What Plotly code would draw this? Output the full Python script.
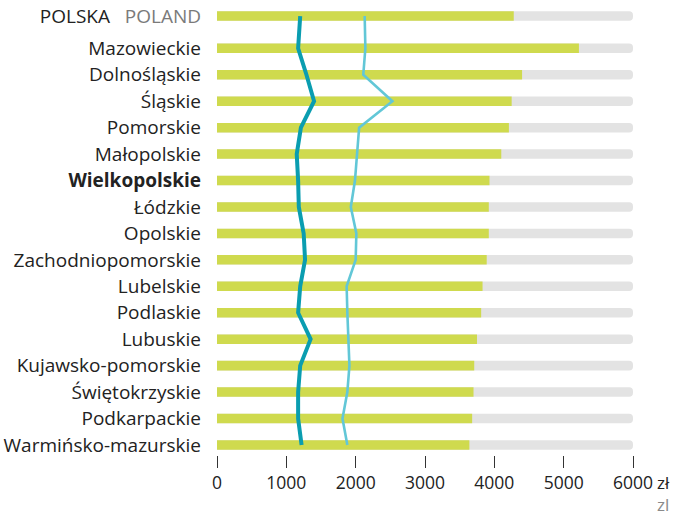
import plotly.graph_objects as go

regions = ["POLSKA", "Mazowieckie", "Dolnośląskie", "Śląskie", "Pomorskie", "Małopolskie",
           "Wielkopolskie", "Łódzkie", "Opolskie", "Zachodniopomorskie", "Lubelskie",
           "Podlaskie", "Lubuskie", "Kujawsko-pomorskie", "Świętokrzyskie",
           "Podkarpackie", "Warmińsko-mazurskie"]
bar_values = [4280, 5220, 4400, 4250, 4210, 4100, 3930, 3920, 3920, 3890, 3830,
              3810, 3750, 3710, 3700, 3680, 3640]
dark_line = [1200, 1170, 1290, 1400, 1210, 1150, 1170, 1180, 1250, 1270, 1200,
             1170, 1350, 1200, 1170, 1170, 1220]
light_line = [2130, 2140, 2110, 2530, 2050, 2020, 1990, 1930, 2010, 2000, 1870,
              1880, 1900, 1910, 1880, 1810, 1880]
x_max = 6000
x_ticks = [0, 1000, 2000, 3000, 4000, 5000, 6000]

# row positions: POLSKA separated by an extra gap
ypos = [-1.22] + list(range(len(regions) - 1))

ticktext = []
for r in regions:
    if r == "POLSKA":
        ticktext.append("POLSKA   <span style='color:#7a7a7a'>POLAND</span>")
    elif r == "Wielkopolskie":
        ticktext.append("<b>Wielkopolskie</b>")
    else:
        ticktext.append(r)

GREEN = "#CFDA4E"
GRAY = "#E3E3E3"
DARK = "#0A9DB0"
LIGHT = "#62C7D7"
FONT = "Open Sans"
TXT = "#222222"

W, H = 676, 516
ML, MR, MT, MB = 217, 43, 6, 61

fig = go.Figure()
fig.add_trace(go.Bar(x=[x_max] * len(regions), y=ypos, orientation="h", width=0.36,
                     marker=dict(color=GRAY, cornerradius="50%", line=dict(width=0)),
                     hoverinfo="skip", showlegend=False))
fig.add_trace(go.Bar(x=bar_values, y=ypos, orientation="h", width=0.36,
                     marker=dict(color=GREEN, cornerradius="50%", line=dict(width=0)),
                     showlegend=False))
fig.add_trace(go.Scatter(x=light_line, y=ypos, mode="lines",
                         line=dict(color=LIGHT, width=2.6), showlegend=False))
fig.add_trace(go.Scatter(x=dark_line, y=ypos, mode="lines",
                         line=dict(color=DARK, width=4), showlegend=False))

plot_h = H - MT - MB
fig.update_layout(
    width=W, height=H,
    margin=dict(l=ML, r=MR, t=MT, b=MB, autoexpand=False),
    barmode="overlay",
    plot_bgcolor="white", paper_bgcolor="white",
    font=dict(family=FONT, size=17, color=TXT),
    xaxis=dict(range=[0, x_max], tickvals=x_ticks, showgrid=False, zeroline=False,
               showline=False, ticks="outside", ticklen=12, tickwidth=1, automargin=False,
               tickcolor="#333333", tickfont=dict(size=17.5, color=TXT)),
    yaxis=dict(range=[15.38, -1.6], tickvals=ypos, ticktext=ticktext, showgrid=False,
               zeroline=False, showline=False, ticks="", ticklabelstandoff=15,
               automargin=False, tickfont=dict(size=19, color=TXT)),
)
fig.add_annotation(text="zł", x=1, xref="paper", y=(H - MB - 482) / plot_h, yref="paper",
                   showarrow=False, xanchor="left", yanchor="middle", xshift=23, borderpad=0,
                   font=dict(size=17, color=TXT))
fig.add_annotation(text="zl", x=1, xref="paper", y=(H - MB - 504.5) / plot_h, yref="paper",
                   showarrow=False, xanchor="left", yanchor="middle", xshift=23, borderpad=0,
                   font=dict(size=17, color="#8a8a8a"))

fig.write_html("out.html", config={"displayModeBar": False},
               post_script="document.body.style.margin='0';document.body.style.overflow='hidden';")
